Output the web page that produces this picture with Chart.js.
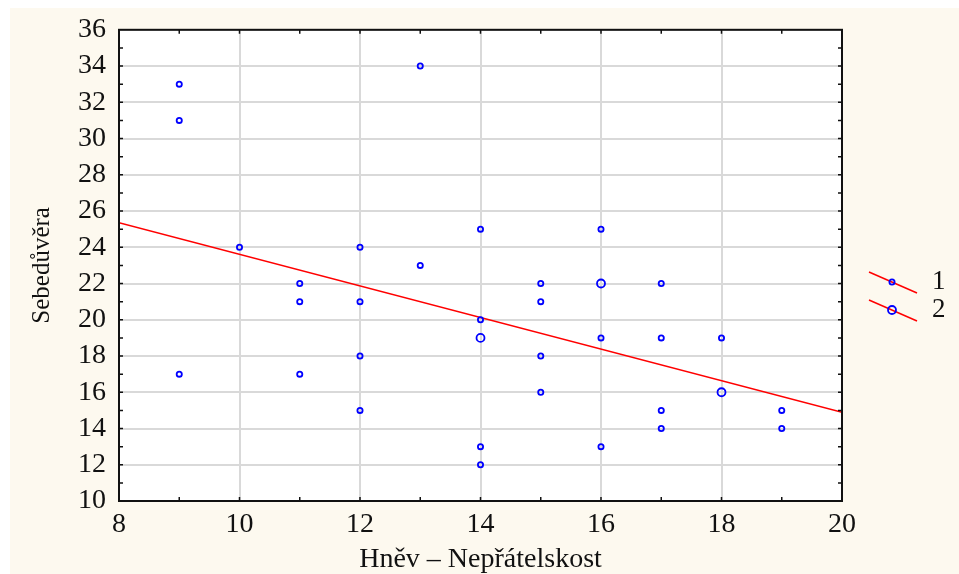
<!DOCTYPE html>
<html>
<head>
<meta charset="utf-8">
<script src="https://cdn.jsdelivr.net/npm/chart.js@4.4.0/dist/chart.umd.min.js"></script>
<style>
  html, body { margin: 0; padding: 0; background: #fff; }
  #wrap { width: 959px; height: 574px; }
</style>
</head>
<body>
<div id="wrap"><canvas id="chart"></canvas></div>
<script>
// Data ---------
// Hněv – Nepřátelskost (x) vs Sebedůvěra (y), count = cases on the same spot
const xValues = [9, 9, 9, 10, 11, 11, 11, 12, 12, 12, 12, 13, 13, 14, 14, 14, 14, 14,
                 15, 15, 15, 15, 16, 16, 16, 16, 17, 17, 17, 17, 18, 18, 19, 19];
const yValues = [33, 31, 17, 24, 22, 21, 17, 24, 21, 18, 15, 34, 23, 25, 20, 19, 13, 12,
                 22, 21, 18, 16, 25, 22, 19, 13, 22, 19, 15, 14, 19, 16, 15, 14];
const counts  = [1, 1, 1, 1, 1, 1, 1, 1, 1, 1, 1, 1, 1, 1, 1, 2, 1, 1,
                 1, 1, 1, 1, 1, 2, 1, 1, 1, 1, 1, 1, 1, 2, 1, 1];

// fitted line, read at the plot edges
const fitX = [8, 20];
const fitY = [25.35, 14.9];

const xTickValues = [8, 10, 12, 14, 16, 18, 20];
const yTickValues = [10, 12, 14, 16, 18, 20, 22, 24, 26, 28, 30, 32, 34, 36];
const legendLabels = ['1', '2'];

const xTitle = 'Hněv – Nepřátelskost';
const yTitle = 'Sebedůvěra';

// Plugin: backgrounds, box, inner ticks, legend ---------
const frame = {
    id: 'frame',
    beforeDraw(chart) {
        const {ctx, chartArea: a} = chart;
        ctx.save();
        ctx.fillStyle = '#ffffff';
        ctx.fillRect(0, 0, chart.width, chart.height);
        ctx.fillStyle = '#fdf9ef';
        ctx.fillRect(10, 8, chart.width - 10, chart.height - 8);
        ctx.fillStyle = '#ffffff';
        ctx.fillRect(a.left, a.top, a.right - a.left, a.bottom - a.top);
        ctx.restore();
    },
    afterDraw(chart) {
        const {ctx, chartArea: a} = chart;
        const xs = chart.scales.x, ys = chart.scales.y;
        ctx.save();
        ctx.strokeStyle = '#111';
        ctx.lineWidth = 1.5;
        ctx.beginPath();
        for (let v = xs.min + 1; v < xs.max; v++) {
            const px = xs.getPixelForValue(v);
            ctx.moveTo(px, a.top); ctx.lineTo(px, a.top + 4);
            ctx.moveTo(px, a.bottom); ctx.lineTo(px, a.bottom - 4);
        }
        for (let v = ys.min + 1; v < ys.max; v++) {
            const py = ys.getPixelForValue(v);
            ctx.moveTo(a.left, py); ctx.lineTo(a.left + 4, py);
            ctx.moveTo(a.right, py); ctx.lineTo(a.right - 4, py);
        }
        ctx.stroke();
        ctx.lineWidth = 2;
        ctx.strokeRect(a.left, a.top, a.right - a.left, a.bottom - a.top);

        // legend: red line with a blue circle, small then large
        legendLabels.forEach(function(label, i) {
            const cy = 282 + i * 28;
            const lx = a.right + 27;
            ctx.strokeStyle = '#ff0000';
            ctx.lineWidth = 1.5;
            ctx.beginPath();
            ctx.moveTo(lx, cy - 10);
            ctx.lineTo(lx + 48, cy + 11);
            ctx.stroke();
            ctx.strokeStyle = '#0000ff';
            ctx.lineWidth = 1.8;
            ctx.beginPath();
            ctx.arc(lx + 23, cy, i === 0 ? 2.6 : 4, 0, Math.PI * 2);
            ctx.stroke();
            ctx.fillStyle = '#111';
            ctx.font = "27px 'Liberation Serif'";
            ctx.textAlign = 'left';
            ctx.textBaseline = 'middle';
            ctx.fillText(label, lx + 63, cy);
        });
        ctx.restore();
    }
};

Chart.defaults.font.family = "'Liberation Serif', 'Times New Roman', serif";
Chart.defaults.color = '#111';

const ctx = document.getElementById('chart').getContext('2d');
const scatterChart = new Chart(ctx, {
    type: 'scatter',
    data: {
        datasets: [{
            label: 'cases',
            data: xValues.map((x, i) => ({x: x, y: yValues[i]})),
            borderColor: '#0000ff',
            backgroundColor: 'rgba(0,0,0,0)',
            pointRadius: c => counts[c.dataIndex] > 1 ? 4 : 2.6,
            pointBorderWidth: 1.8,
            order: 0
        }, {
            type: 'line',
            label: 'fit',
            data: fitX.map((x, i) => ({x: x, y: fitY[i]})),
            borderColor: '#ff0000',
            borderWidth: 1.5,
            pointRadius: 0,
            order: 1
        }]
    },
    options: {
        responsive: true,
        maintainAspectRatio: false,
        animation: false,
        layout: { padding: { left: 10, top: 28, right: 117, bottom: 0 } },
        plugins: { legend: { display: false }, tooltip: { enabled: false } },
        scales: {
            x: {
                type: 'linear',
                min: 8, max: 20,
                afterBuildTicks: s => { s.ticks = xTickValues.map(v => ({value: v})); },
                afterFit: s => { s.height = 73; },
                grid: { color: '#d9d9d9', lineWidth: 2, drawTicks: false },
                border: { display: false },
                ticks: { font: { size: 28 }, padding: 7, maxRotation: 0, autoSkip: false },
                title: { display: true, text: xTitle, font: { size: 28, lineHeight: 1 }, padding: { top: 0, bottom: 0 } }
            },
            y: {
                type: 'linear',
                min: 10, max: 36,
                afterBuildTicks: s => { s.ticks = yTickValues.map(v => ({value: v})); },
                afterFit: s => { s.width = 109; },
                grid: { color: '#d9d9d9', lineWidth: 2, drawTicks: false },
                border: { display: false },
                ticks: { font: { size: 28 }, padding: 13, autoSkip: false },
                title: { display: true, text: yTitle, font: { size: 25, lineHeight: 1 }, padding: { top: 20, bottom: 0 } }
            }
        }
    },
    plugins: [frame]
});
</script>
</body>
</html>
